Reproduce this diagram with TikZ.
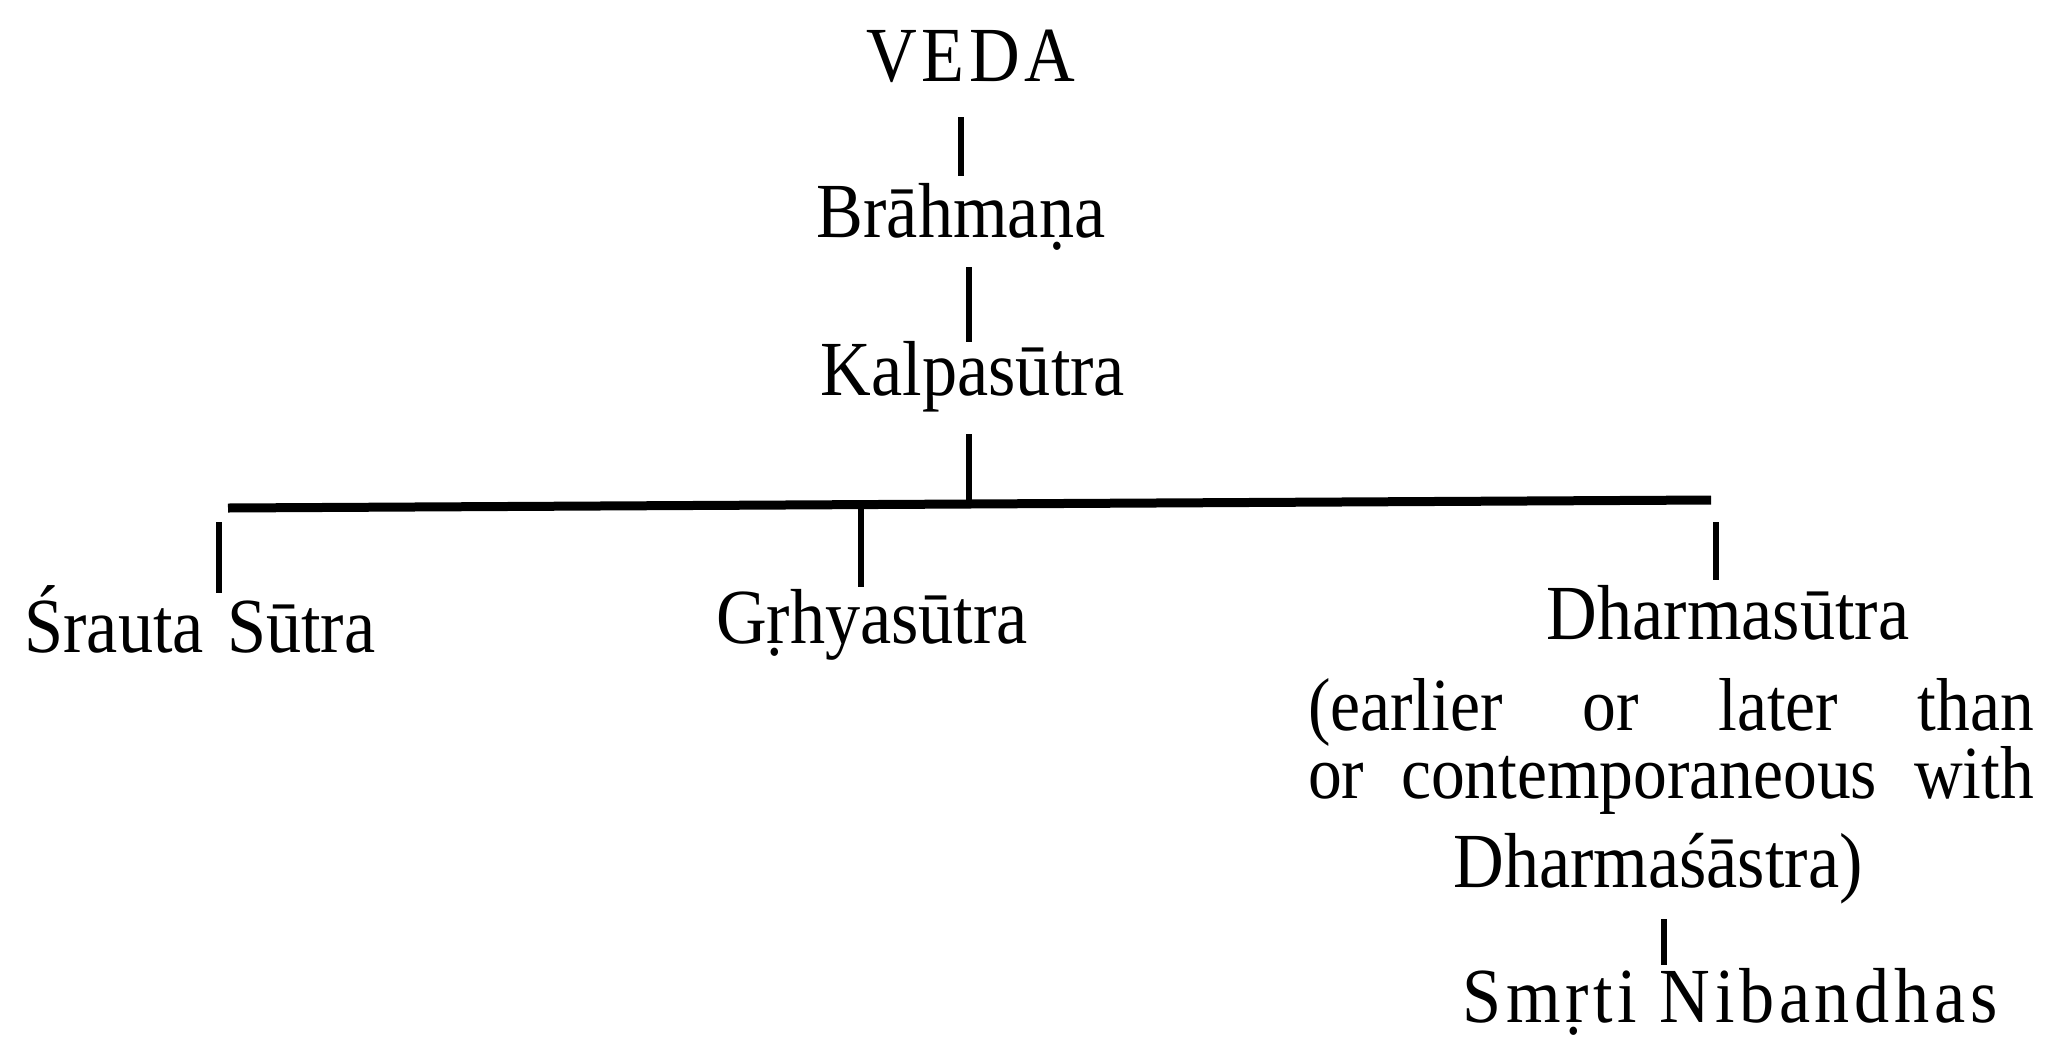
\documentclass[tikz,border=0pt]{standalone}
\usepackage{fontspec}
\setmainfont{Liberation Serif}[FakeStretch=0.9]
\newfontfamily\spacedfont{Liberation Serif}[FakeStretch=0.9, LetterSpace=6]
\begin{document}
\begin{tikzpicture}[x=1pt,y=-1pt,
  lbl/.style={inner sep=0pt, anchor=base, font=\fontsize{78}{80}\selectfont},
  notelbl/.style={inner sep=0pt, anchor=base, font=\fontsize{75}{77}\selectfont},
  conn/.style={line width=6pt, black},
  barline/.style={line width=9pt, black}]
\fill[white] (0,0) rectangle (2045,1039);
\useasboundingbox (0,0) rectangle (2045,1039);
% nodes
\node[lbl] (veda) at (971,81) {\spacedfont VEDA};
\node[lbl] (brahmana) at (961,237) {Brāhmaṇa};
\node[lbl] (kalpa) at (973,395) {Kalpasūtra};
\node[lbl] (srauta) at (200,652) {Śrauta\hspace{6pt} Sūtra};
\node[lbl] (grhya) at (872,643) {Gṛhyasūtra};
\node[lbl] (dharma) at (1728,639) {Dharmasūtra};
\node[notelbl] (note1) at (1671,730) {\makebox[726pt][s]{(earlier or later than}};
\node[notelbl] (note2) at (1671,798) {\makebox[726pt][s]{or contemporaneous with}};
\node[lbl] (dsastra) at (1658,887) {Dharmaśāstra)};
\node[lbl] (smrti) at (1730,1022) {\spacedfont Smṛti Nibandhas};
% bar
\coordinate (barL) at (228,508);
\coordinate (barR) at (1711,500);
\coordinate (barK) at (969,504);
\coordinate (barG) at (861,505);
\draw[barline] (barL) -- (barR);
% connectors
\draw[conn] ([xshift=-10pt,yshift=-36pt]veda.base) -- ([yshift=61pt]brahmana.base);
\draw[conn] ([xshift=8pt,yshift=-30pt]brahmana.base) -- ([xshift=-4pt,yshift=53pt]kalpa.base);
\draw[conn] ([xshift=-4pt,yshift=-39pt]kalpa.base) -- (barK);
\draw[conn] ([xshift=-9pt,yshift=-14pt]barL) -- ([xshift=19pt,yshift=59pt]srauta.base);
\draw[conn] (barG) -- ([xshift=-11pt,yshift=56pt]grhya.base);
\draw[conn] ([xshift=5pt,yshift=-22pt]barR) -- ([xshift=-12pt,yshift=59pt]dharma.base);
\draw[conn] ([xshift=6pt,yshift=-32pt]dsastra.base) -- ([xshift=-66pt,yshift=57pt]smrti.base);
\end{tikzpicture}
\end{document}
